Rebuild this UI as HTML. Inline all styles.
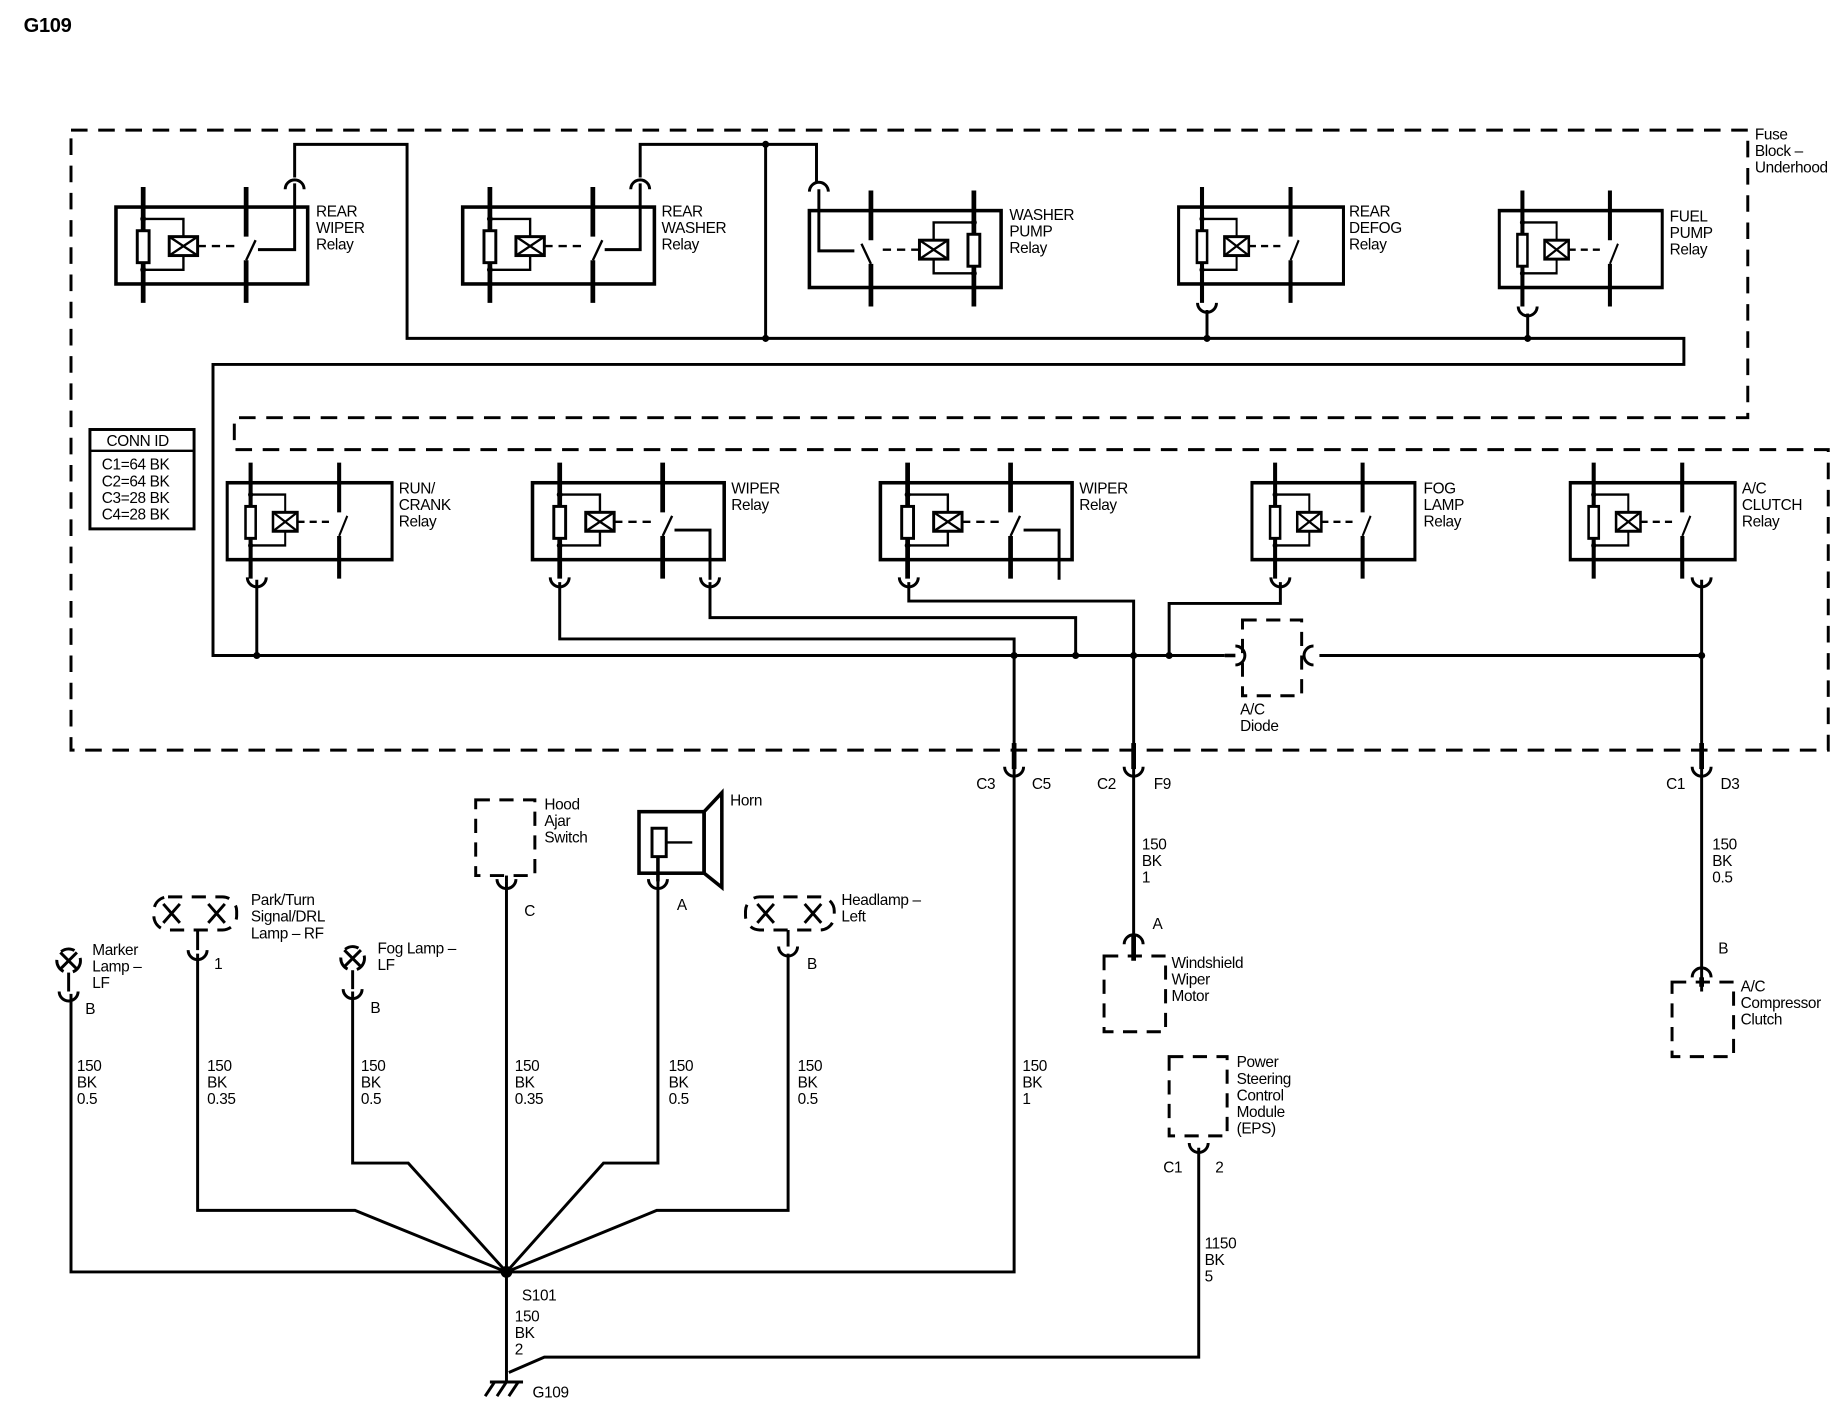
<!DOCTYPE html>
<html><head><meta charset="utf-8"><style>
html,body{margin:0;padding:0;background:#fff}
svg{display:block}
text{font-family:"Liberation Sans",Arial,sans-serif;font-size:13px;fill:#000;letter-spacing:-0.3px}
</style></head><body>
<svg width="1846" height="1408" viewBox="0 0 1560 1190" preserveAspectRatio="none" xmlns="http://www.w3.org/2000/svg">
<defs>
<g id="rl">
<rect x="0" y="0" width="162" height="65" fill="#fff" stroke="#000" stroke-width="3"/>
<line x1="23" y1="-17" x2="23" y2="81" stroke="#000" stroke-width="4"/>
<polyline points="23,10 57,10 57,25" fill="none" stroke="#000" stroke-width="2"/>
<polyline points="57,41 57,53 23,53" fill="none" stroke="#000" stroke-width="2"/>
<rect x="18" y="20" width="10" height="27" fill="#fff" stroke="#000" stroke-width="2.5"/>
<circle cx="23" cy="10" r="2.5"/><circle cx="23" cy="53" r="2.5"/>
<rect x="45" y="25" width="24" height="16" fill="#fff" stroke="#000" stroke-width="2.5"/>
<path d="M45,25 L69,41 M69,25 L45,41" stroke="#000" stroke-width="2"/>
<line x1="69" y1="33" x2="100" y2="33" stroke="#000" stroke-width="2" stroke-dasharray="7,5"/>
<line x1="110" y1="-17" x2="110" y2="25" stroke="#000" stroke-width="4"/>
<line x1="110" y1="45" x2="110" y2="81" stroke="#000" stroke-width="4"/>
<line x1="110" y1="45" x2="118" y2="28" stroke="#000" stroke-width="2"/>
</g>
</defs>
<text x="20" y="27" style="font-size:17px;font-weight:bold">G109</text>
<g fill="none" stroke="#000" stroke-width="2.5" stroke-dasharray="14,9">
<polyline points="60,110 1477,110 1477,353 198,353 198,380 1545,380 1545,634 60,634 60,110"/>
</g>
<text x="1483" y="118">Fuse</text><text x="1483" y="132">Block –</text><text x="1483" y="146">Underhood</text>

<!-- top relays -->
<use href="#rl" transform="translate(98,175)"/>
<use href="#rl" transform="translate(391,175)"/>
<use href="#rl" transform="translate(846,178) scale(-1,1)"/>
<use href="#rl" transform="translate(996,175) scale(0.86,1)"/>
<use href="#rl" transform="translate(1267,178) scale(0.85,1)"/>
<!-- bottom relays -->
<use href="#rl" transform="translate(192,408) scale(0.86,1)"/>
<use href="#rl" transform="translate(450,408)"/>
<use href="#rl" transform="translate(744,408)"/>
<use href="#rl" transform="translate(1058,408) scale(0.85,1)"/>
<use href="#rl" transform="translate(1327,408) scale(0.86,1)"/>

<g fill="none" stroke="#000" stroke-width="2.5">
<!-- extra contact pins with wires -->
<polyline points="249,155 249,211 218,211"/>
<polyline points="541,155 541,211 511,211"/>
<polyline points="692,160 692,212 722,212"/>
<polyline points="600,490 600,448 570,448"/>
<polyline points="895,490 895,448 865,448"/>
<!-- top wiring -->
<polyline points="249,150 249,122 344,122 344,286 1423,286 1423,308 180,308 180,554 1035,554"/>
<polyline points="541,150 541,122 690,122 690,155"/>
<line x1="647" y1="122" x2="647" y2="286"/>
<line x1="1020" y1="262" x2="1020" y2="286"/>
<line x1="1291" y1="265" x2="1291" y2="286"/>
<line x1="217" y1="490" x2="217" y2="554"/>
<polyline points="473,492 473,540 857,540 857,1075 60,1075 60,840"/>
<polyline points="600,492 600,522 909,522 909,554"/>
<polyline points="768,492 768,508 958,508 958,790"/>
<polyline points="1082,492 1082,510 988,510 988,554"/>
<polyline points="1115,554 1438,554"/>
<line x1="1438" y1="490" x2="1438" y2="830"/>
<!-- bottom harness -->
<polyline points="167,806 167,1023 300,1023 428,1075"/>
<polyline points="298,838 298,983 345,983 428,1075"/>
<line x1="428" y1="745" x2="428" y2="1168"/>
<polyline points="556,745 556,983 510,983 428,1075"/>
<polyline points="666,806 666,1023 555,1023 428,1075"/>
<polyline points="1013,970 1013,1147 460,1147 430,1160"/>
<line x1="1438" y1="826" x2="1438" y2="838"/>
</g>
<!-- thick stubs -->
<g stroke="#000" stroke-width="4">
<line x1="857" y1="628" x2="857" y2="650"/><line x1="958" y1="628" x2="958" y2="650"/><line x1="1438" y1="628" x2="1438" y2="650"/>
<line x1="958" y1="790" x2="958" y2="812"/><line x1="1438" y1="826" x2="1438" y2="834"/>
</g>
<!-- dots -->
<g>
<circle cx="647" cy="122" r="3"/><circle cx="647" cy="286" r="3"/><circle cx="1020" cy="286" r="3"/><circle cx="1291" cy="286" r="3"/>
<circle cx="217" cy="554" r="3"/><circle cx="857" cy="554" r="3"/><circle cx="909" cy="554" r="3"/><circle cx="958" cy="554" r="3"/><circle cx="988" cy="554" r="3"/><circle cx="1438" cy="554" r="3"/>
<circle cx="428" cy="1075" r="5"/>
</g>
<!-- connector cups -->
<g fill="none" stroke="#000" stroke-width="2.5">
<path d="M241,160 A8,8 0 0 1 257,160"/><path d="M533,160 A8,8 0 0 1 549,160"/><path d="M684,162 A8,8 0 0 1 700,162"/>
<path d="M1012,256 A8,8 0 0 0 1028,256"/><path d="M1283,259 A8,8 0 0 0 1299,259"/>
<path d="M209,488 A8,8 0 0 0 225,488"/><path d="M465,488 A8,8 0 0 0 481,488"/><path d="M592,488 A8,8 0 0 0 608,488"/>
<path d="M760,488 A8,8 0 0 0 776,488"/><path d="M1074,488 A8,8 0 0 0 1090,488"/><path d="M1430,488 A8,8 0 0 0 1446,488"/>
<path d="M849,648 A8,8 0 0 0 865,648"/><path d="M950,648 A8,8 0 0 0 966,648"/><path d="M1430,648 A8,8 0 0 0 1446,648"/>
<path d="M950,798 A8,8 0 0 1 966,798"/><path d="M1430,826 A8,8 0 0 1 1446,826"/>
<path d="M1005,966 A8,8 0 0 0 1021,966"/>
<path d="M50,838 A8,8 0 0 0 66,838"/><path d="M159,803 A8,8 0 0 0 175,803"/><path d="M290,836 A8,8 0 0 0 306,836"/>
<path d="M420,743 A8,8 0 0 0 436,743"/><path d="M548,743 A8,8 0 0 0 564,743"/><path d="M658,800 A8,8 0 0 0 674,800"/>
<!-- diode -->
<path d="M1044,546 A8,8 0 0 1 1044,562"/><path d="M1110,546 A8,8 0 0 0 1110,562"/>
</g>
<line x1="1035" y1="554" x2="1044" y2="554" stroke="#000" stroke-width="3"/>
<g fill="none" stroke="#000" stroke-width="2.5" stroke-dasharray="12,8">
<rect x="1050" y="524" width="50" height="64"/>
<rect x="402" y="676" width="50" height="64"/>
<rect x="933" y="808" width="52" height="64"/>
<rect x="1413" y="830" width="52" height="63"/>
<rect x="988" y="893" width="49" height="67"/>
<rect x="130" y="758" width="70" height="28" rx="12"/>
<rect x="630" y="758" width="75" height="28" rx="12"/>
<circle cx="58" cy="812" r="10"/><circle cx="298" cy="810" r="10"/>
</g>
<g stroke="#000" stroke-width="2.5">
<path d="M51,805 L65,819 M65,805 L51,819"/><path d="M291,803 L305,817 M305,803 L291,817"/>
<path d="M138,764 L152,780 M152,764 L138,780 M176,764 L190,780 M190,764 L176,780"/>
<path d="M640,764 L654,780 M654,764 L640,780 M680,764 L694,780 M694,764 L680,780"/>
<line x1="58" y1="822" x2="58" y2="838"/><line x1="167" y1="786" x2="167" y2="803"/><line x1="298" y1="820" x2="298" y2="836"/>
<line x1="428" y1="740" x2="428" y2="745"/><line x1="666" y1="786" x2="666" y2="800"/>
</g>
<!-- horn -->
<g fill="none" stroke="#000" stroke-width="3">
<rect x="540" y="686" width="55" height="52"/>
<polygon points="595,686 610,670 610,750 595,738"/>
<rect x="551" y="700" width="12" height="24" stroke-width="2.5"/>
<polyline points="563,712 585,712" stroke-width="2"/>
<line x1="556" y1="724" x2="556" y2="745"/>
</g>
<!-- ground -->
<g stroke="#000" stroke-width="2.5">
<line x1="414" y1="1168" x2="442" y2="1168"/>
<line x1="418" y1="1168" x2="410" y2="1180"/><line x1="428" y1="1168" x2="420" y2="1180"/><line x1="438" y1="1168" x2="430" y2="1180"/>
</g>
<!-- conn id -->
<rect x="76" y="363" width="88" height="84" fill="none" stroke="#000" stroke-width="2.5"/>
<line x1="76" y1="381" x2="164" y2="381" stroke="#000" stroke-width="2"/>
<text x="90" y="377">CONN ID</text>
<text x="86" y="397">C1=64 BK</text><text x="86" y="411">C2=64 BK</text><text x="86" y="425">C3=28 BK</text><text x="86" y="439">C4=28 BK</text>
<!-- relay labels -->
<text x="267" y="183">REAR</text><text x="267" y="197">WIPER</text><text x="267" y="211">Relay</text>
<text x="559" y="183">REAR</text><text x="559" y="197">WASHER</text><text x="559" y="211">Relay</text>
<text x="853" y="186">WASHER</text><text x="853" y="200">PUMP</text><text x="853" y="214">Relay</text>
<text x="1140" y="183">REAR</text><text x="1140" y="197">DEFOG</text><text x="1140" y="211">Relay</text>
<text x="1411" y="187">FUEL</text><text x="1411" y="201">PUMP</text><text x="1411" y="215">Relay</text>
<text x="337" y="417">RUN/</text><text x="337" y="431">CRANK</text><text x="337" y="445">Relay</text>
<text x="618" y="417">WIPER</text><text x="618" y="431">Relay</text>
<text x="912" y="417">WIPER</text><text x="912" y="431">Relay</text>
<text x="1203" y="417">FOG</text><text x="1203" y="431">LAMP</text><text x="1203" y="445">Relay</text>
<text x="1472" y="417">A/C</text><text x="1472" y="431">CLUTCH</text><text x="1472" y="445">Relay</text>
<text x="1048" y="604">A/C</text><text x="1048" y="618">Diode</text>
<!-- connector labels -->
<text x="825" y="667">C3</text><text x="872" y="667">C5</text>
<text x="927" y="667">C2</text><text x="975" y="667">F9</text>
<text x="1408" y="667">C1</text><text x="1454" y="667">D3</text>
<text x="965" y="718">150</text><text x="965" y="732">BK</text><text x="965" y="746">1</text>
<text x="974" y="785">A</text>
<text x="990" y="818">Windshield</text><text x="990" y="832">Wiper</text><text x="990" y="846">Motor</text>
<text x="1447" y="718">150</text><text x="1447" y="732">BK</text><text x="1447" y="746">0.5</text>
<text x="1452" y="806">B</text>
<text x="1471" y="838">A/C</text><text x="1471" y="852">Compressor</text><text x="1471" y="866">Clutch</text>
<text x="1045" y="902">Power</text><text x="1045" y="916">Steering</text><text x="1045" y="930">Control</text><text x="1045" y="944">Module</text><text x="1045" y="958">(EPS)</text>
<text x="983" y="991">C1</text><text x="1027" y="991">2</text>
<text x="1018" y="1055">1150</text><text x="1018" y="1069">BK</text><text x="1018" y="1083">5</text>
<text x="460" y="684">Hood</text><text x="460" y="698">Ajar</text><text x="460" y="712">Switch</text>
<text x="617" y="681">Horn</text>
<text x="443" y="774">C</text><text x="572" y="769">A</text>
<text x="212" y="765">Park/Turn</text><text x="212" y="779">Signal/DRL</text><text x="212" y="793">Lamp – RF</text>
<text x="711" y="765">Headlamp –</text><text x="711" y="779">Left</text>
<text x="78" y="807">Marker</text><text x="78" y="821">Lamp –</text><text x="78" y="835">LF</text>
<text x="319" y="806">Fog Lamp –</text><text x="319" y="820">LF</text>
<text x="181" y="819">1</text><text x="682" y="819">B</text><text x="72" y="857">B</text><text x="313" y="856">B</text>
<text x="65" y="905">150</text><text x="65" y="919">BK</text><text x="65" y="933">0.5</text>
<text x="175" y="905">150</text><text x="175" y="919">BK</text><text x="175" y="933">0.35</text>
<text x="305" y="905">150</text><text x="305" y="919">BK</text><text x="305" y="933">0.5</text>
<text x="435" y="905">150</text><text x="435" y="919">BK</text><text x="435" y="933">0.35</text>
<text x="565" y="905">150</text><text x="565" y="919">BK</text><text x="565" y="933">0.5</text>
<text x="674" y="905">150</text><text x="674" y="919">BK</text><text x="674" y="933">0.5</text>
<text x="864" y="905">150</text><text x="864" y="919">BK</text><text x="864" y="933">1</text>
<text x="441" y="1099">S101</text>
<text x="435" y="1117">150</text><text x="435" y="1131">BK</text><text x="435" y="1145">2</text>
<text x="450" y="1181">G109</text>
</svg>
</body></html>
